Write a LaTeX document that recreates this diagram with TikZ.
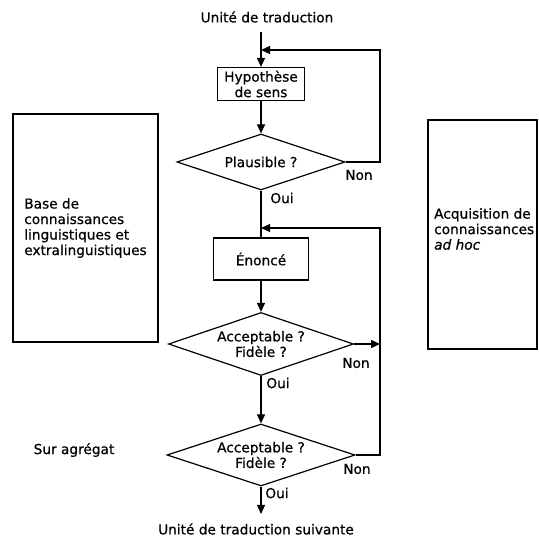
\documentclass[tikz,border=0pt]{standalone}
\usepackage{fontspec}
\setmainfont[FakeBold=0.6]{DejaVu Sans}
\usetikzlibrary{shapes.geometric,arrows.meta}
\begin{document}
\begin{tikzpicture}[x=1pt,y=-1pt,
  every node/.style={font=\fontsize{13.7}{15.5}\selectfont},
  line/.style={line width=1.2pt},
  arr/.style={line width=1.2pt,-{Triangle[length=9pt,width=8pt]}},
  procbox/.style={draw,line width=1.2pt,rectangle,inner sep=0pt,align=center},
  decision/.style={draw,line width=1.2pt,diamond,aspect=3,inner sep=0pt,align=center},
  sidebox/.style={draw,line width=1.2pt,rectangle,inner sep=0pt,align=left},
  lbl/.style={inner sep=0pt}]
\useasboundingbox (0,0) rectangle (539,537);

% side boxes
\node[sidebox,minimum width=145pt,minimum height=228pt] (kb) at (85.5,228)
  {Base de\\connaissances\\linguistiques et\\extralinguistiques};
\node[sidebox,minimum width=109pt,minimum height=229pt] (acq) at (482.5,234.5) {};
\node[lbl,anchor=west,align=left] (acqtext) at (434,229)
  {Acquisition de\\connaissances\\\textit{ad hoc}};
\node[lbl] (sur) at (74,450) {Sur agrégat};

% main column
\node[lbl] (title) at (267,17) {Unité de traduction};
\node[procbox,minimum width=87pt,minimum height=33pt] (hyp) at (261,84) {Hypothèse\\de sens};
\node[decision,minimum width=168pt,minimum height=56pt] (d1) at (261,162) {Plausible ?};
\node[procbox,minimum width=95pt,minimum height=42pt] (enon) at (261,259) {Énoncé};
\node[decision,minimum width=185pt,minimum height=63pt] (d2) at (261,344) {Acceptable ?\\Fidèle ?};
\node[decision,minimum width=188pt,minimum height=62pt] (d3) at (261,455) {Acceptable ?\\Fidèle ?};
\node[lbl] (final) at (256,529) {Unité de traduction suivante};

% labels
\node[lbl] (non1) at (359,175) {Non};
\node[lbl] (oui1) at (282,198) {Oui};
\node[lbl] (non2) at (356,363) {Non};
\node[lbl] (oui2) at (278,383) {Oui};
\node[lbl] (non3) at (357,469) {Non};
\node[lbl] (oui3) at (277,493) {Oui};

% junction coordinates
\coordinate (top) at (261,32);
\coordinate (j1) at (261,50);
\coordinate (r1) at (380,50);
\coordinate (j2) at (261,228);
\coordinate (r2) at (380,228);
\coordinate (bot) at (261,514);

% connectors
\draw[arr] (top) -- (hyp.north);
\draw[arr] (hyp.south) -- (d1.north);
\draw[line] (d1.south) -- (enon.north);
\draw[arr] (enon.south) -- (d2.north);
\draw[arr] (d2.south) -- (d3.north);
\draw[arr] (d3.south) -- (bot);

\draw[arr] (d1.east) -| (r1) -- (j1);
\draw[arr] (d3.east) -| (r2) -- (j2);
\draw[arr] (d2.east) -- (d2.east -| r2);
\end{tikzpicture}
\end{document}
